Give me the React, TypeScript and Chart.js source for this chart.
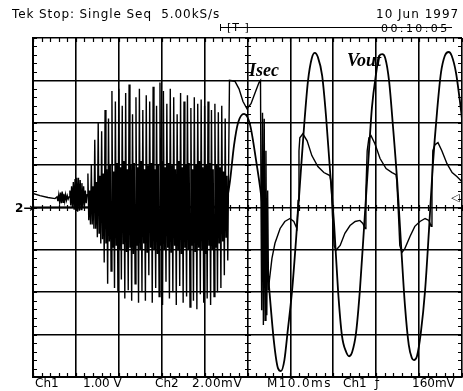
import React, { useEffect, useRef } from "react";
import { Chart, registerables } from "chart.js";

Chart.register(...registerables);

// Horizontal: M10.0ms per division, 10 divisions
const timeMinMs = 0;
const timeMaxMs = 100;
const timeDivMs = 10;
// Ch1 (Vout): 1.00 V/div ; Ch2 (Isec): 2.00 mV/div ; 8 divisions
const voutMinV = -4;
const voutMaxV = 4;
const isecMinMv = -8;
const isecMaxMv = 8;

// Vout (Ch1), volts
const voutTimes = [
  0, 44.5, 45.2, 45.9, 46.85, 47.8, 49.2, 50.6, 52.0, 53.4, 54.8, 56.2, 57.1, 57.8,
  58.6, 59.4, 60.4, 61.3, 62.2, 63.2, 64.1, 65.0, 65.7, 66.4, 67.4, 68.3, 69.2, 70.2,
  71.1, 72.0, 73.0, 73.7, 74.4, 75.3, 76.2, 77.2, 78.1, 79.0, 80.0, 80.7, 81.4, 82.1,
  83.0, 83.9, 84.9, 85.8, 86.7, 87.6, 88.3, 88.8, 89.5, 90.4, 91.4, 92.3, 93.2, 94.2,
  95.1, 96.0, 96.9, 97.6, 98.6, 99.5, 100,
];
const voutValues = [
  0, 0.02, 0.2, 0.61, 1.46, 2.0, 2.21, 1.95, 1.11, 0.09, -1.6, -3.2, -3.79, -3.86,
  -3.6, -2.89, -1.95, -0.78, 0.52, 1.93, 2.99, 3.53, 3.65, 3.55, 3.11, 2.16, 0.92, -0.42,
  -1.95, -3.01, -3.41, -3.51, -3.41, -2.96, -1.95, -0.42, 0.99, 2.35, 3.18, 3.58, 3.62, 3.53,
  2.99, 1.93, 0.61, -0.89, -2.31, -3.25, -3.55, -3.6, -3.51, -2.96, -1.95, -0.54, 0.99, 2.28,
  3.18, 3.58, 3.67, 3.58, 3.18, 2.52, 2.09,
];

// Isec (Ch2), millivolts — lead-in before the sampled burst
const isecLeadTimes = [0, 1.63, 3.5, 5.13];
const isecLeadValues = [0.66, 0.56, 0.47, 0.42];

// Burst record, read sample by sample at 5.00kS/s
const sampleRateKsPerS = 5;
const isecSampleStartMs = 5.6;
const isecSamples = [
  // small wobble
  0.5, 0.3, 0.6, 0.25, 0.7, 0.2, 0.75, 0.25, 0.65, 0.3, 0.6, 0.35, 0.55, 0.4, 0.5,
  // blob
  0.8, 0.1, 1.0, 0.0, 1.2, -0.1, 1.35, -0.15, 1.4, -0.2, 1.4, -0.15, 1.3, -0.1, 1.15,
  0.0, 1.0, 0.1, 0.8, 0.2, 0.6,
  // burst: spike top, core low, core high, spike bottom
  1.6, -0.6, 0.8, -0.8,
  2.0, -0.8, 1.0, -1.0,
  3.2, -1.0, 1.2, -1.4,
  4.0, -1.2, 1.5, -1.7,
  3.6, -1.5, 1.6, -2.6,
  4.6, -1.7, 1.8, -3.6,
  4.2, -1.6, 2.0, -3.0,
  5.5, -1.9, 1.7, -3.8,
  5.0, -1.8, 2.1, -4.0,
  5.6, -2.0, 1.9, -3.4,
  4.8, -1.7, 2.2, -4.3,
  5.4, -2.1, 1.8, -3.9,
  5.8, -1.9, 2.0, -4.4,
  4.4, -2.2, 2.1, -3.6,
  5.2, -1.8, 1.9, -4.5,
  5.6, -2.0, 2.2, -4.0,
  4.6, -1.7, 1.8, -4.4,
  5.3, -2.1, 2.0, -3.2,
  5.0, -1.9, 2.1, -4.5,
  5.7, -2.0, 1.8, -3.8,
  4.8, -2.2, 2.0, -4.2,
  5.9, -1.8, 2.2, -4.6,
  5.5, -2.0, 1.9, -3.5,
  4.9, -1.9, 2.1, -4.3,
  5.6, -2.1, 2.0, -4.0,
  5.2, -1.8, 1.8, -4.6,
  4.4, -2.0, 2.2, -3.7,
  5.4, -2.2, 1.9, -4.5,
  5.0, -1.9, 2.0, -4.2,
  5.3, -2.0, 2.1, -4.7,
  4.7, -1.8, 1.8, -4.4,
  5.2, -2.1, 2.0, -4.8,
  4.9, -1.9, 2.2, -4.1,
  5.1, -2.0, 1.9, -4.5,
  4.8, -2.2, 2.0, -4.3,
  5.0, -1.8, 2.1, -4.6,
  4.6, -2.0, 1.8, -4.2,
  4.9, -1.9, 2.0, -4.0,
  4.5, -1.7, 1.9, -3.8,
  4.8, -1.6, 1.7, -3.2,
  4.2, -1.4, 1.5, -2.5,
  2.0, 6.0,
];

// Isec after the burst
const isecTailTimes = [
  46.39, 47.09, 48.02, 48.95, 49.88, 50.82, 51.75, 52.68, 53.03, 53.15, 53.3, 53.5, 53.7,
  53.9, 54.1, 54.3, 54.5, 54.7, 54.9, 55.1, 55.7, 56.4, 57.6, 58.7, 59.9, 60.8, 61.5,
  61.8, 62.0, 62.2, 62.9, 63.9, 65.0, 66.4, 67.8, 69.2, 69.5, 69.8, 70.2, 70.6, 71.6,
  72.7, 73.9, 75.1, 76.2, 76.9, 77.4, 77.6, 77.9, 78.3, 78.8, 79.7, 80.9, 82.3, 83.7,
  84.6, 84.8, 85.2, 85.5, 86.0, 86.7, 87.9, 89.0, 90.2, 91.4, 92.3, 92.8, 93.0, 93.2,
  93.7, 94.4, 95.3, 96.5, 97.7, 98.8, 100.0,
];
const isecTailValues = [
  5.98, 5.95, 5.6, 5.0, 4.66, 4.9, 5.4, 5.9, 6.0, 0.33, -4.85, 4.47, -5.55,
  4.19, -5.32, 2.68, -5.08, 0.8, -3.9, -3.44, -2.4, -1.69, -0.99, -0.66, -0.52, -0.66, -0.99,
  0.33, 2.68, 3.29, 3.48, 3.15, 2.45, 1.93, 1.65, 1.51, 1.18, -0.38, -1.79, -2.02, -1.79,
  -1.22, -0.85, -0.66, -0.61, -0.75, -0.99, 0.8, 2.68, 3.29, 3.39, 3.01, 2.31, 1.84, 1.65,
  1.55, 1.27, -0.38, -1.79, -2.12, -1.93, -1.36, -0.89, -0.66, -0.52, -0.61, -0.89, 0.8, 2.68,
  2.96, 3.06, 2.68, 2.07, 1.65, 1.46, 1.22,
];

const graticulePlugin = {
  id: "graticule",
  beforeDatasetsDraw(chart: any) {
    const { ctx, chartArea: a, scales } = chart;
    const xs = scales.x;
    const ys = scales.y;
    const cx = Math.round(xs.getPixelForValue((timeMinMs + timeMaxMs) / 2));
    const cy = Math.round(ys.getPixelForValue(0));
    ctx.save();
    ctx.strokeStyle = "#000";
    ctx.lineWidth = 1.2;
    ctx.beginPath();
    const nx = ((timeMaxMs - timeMinMs) / timeDivMs) * 5;
    for (let i = 0; i <= nx; i++) {
      const px = Math.round(xs.getPixelForValue(timeMinMs + (i * timeDivMs) / 5)) + 0.5;
      ctx.moveTo(px, a.top);
      ctx.lineTo(px, a.top + 4);
      ctx.moveTo(px, a.bottom);
      ctx.lineTo(px, a.bottom - 4);
      ctx.moveTo(px, cy - 3);
      ctx.lineTo(px, cy + 3);
    }
    const ny = (voutMaxV - voutMinV) * 5;
    for (let i = 0; i <= ny; i++) {
      const py = Math.round(ys.getPixelForValue(voutMinV + i / 5)) + 0.5;
      ctx.moveTo(a.left, py);
      ctx.lineTo(a.left + 4, py);
      ctx.moveTo(a.right, py);
      ctx.lineTo(a.right - 4, py);
      ctx.moveTo(cx - 3, py);
      ctx.lineTo(cx + 3, py);
    }
    ctx.stroke();
    ctx.restore();
  },
};

const sans = '"DejaVu Sans", sans-serif';
const serif = '"Liberation Serif", "Times New Roman", serif';

function Label(props: { left: number; top: number; text: string; size?: number; spacing?: number; family?: string; weight?: string; italic?: boolean }) {
  const { left, top, text, size = 12, spacing = 0, family = sans, weight = "normal", italic = false } = props;
  return (
    <div
      style={{
        position: "absolute",
        left,
        top,
        fontFamily: family,
        fontSize: size,
        lineHeight: 1,
        letterSpacing: spacing,
        fontWeight: weight as any,
        fontStyle: italic ? "italic" : "normal",
        whiteSpace: "pre",
        color: "#000",
      }}
    >
      {text}
    </div>
  );
}

export default function App() {
  const ref = useRef<HTMLCanvasElement | null>(null);

  useEffect(() => {
    if (!ref.current) return;
    const samplePeriodMs = 1 / sampleRateKsPerS;
    const vout = voutTimes.map((t, i) => ({ x: t, y: voutValues[i] }));
    const isec = [
      ...isecLeadTimes.map((t, i) => ({ x: t, y: isecLeadValues[i] })),
      ...isecSamples.map((v, i) => ({ x: isecSampleStartMs + i * samplePeriodMs, y: v })),
      ...isecTailTimes.map((t, i) => ({ x: t, y: isecTailValues[i] })),
    ];
    const chart = new Chart(ref.current, {
      type: "line",
      data: {
        datasets: [
          {
            label: "Vout",
            data: vout,
            yAxisID: "y",
            borderColor: "#000",
            borderWidth: 1.8,
            pointRadius: 0,
            cubicInterpolationMode: "monotone",
            fill: false,
          },
          {
            label: "Isec",
            data: isec,
            yAxisID: "y2",
            borderColor: "#000",
            borderWidth: 1.4,
            pointRadius: 0,
            tension: 0,
            fill: false,
          },
        ],
      },
      options: {
        responsive: false,
        animation: false,
        devicePixelRatio: 1,
        layout: { padding: { left: 33, top: 38, right: 1, bottom: 14 } },
        plugins: { legend: { display: false }, tooltip: { enabled: false }, title: { display: false } },
        scales: {
          x: {
            type: "linear",
            min: timeMinMs,
            max: timeMaxMs,
            ticks: { display: false, stepSize: timeDivMs },
            grid: { color: "#000", lineWidth: 1.6, drawTicks: false },
            border: { display: true, color: "#000", width: 2 },
          },
          y: {
            type: "linear",
            min: voutMinV,
            max: voutMaxV,
            ticks: { display: false, stepSize: 1 },
            grid: { color: "#000", lineWidth: 1.6, drawTicks: false },
            border: { display: true, color: "#000", width: 2 },
          },
          y2: {
            type: "linear",
            display: false,
            min: isecMinMv,
            max: isecMaxMv,
          },
        },
      },
      plugins: [graticulePlugin],
    });
    return () => chart.destroy();
  }, []);

  return (
    <div style={{ position: "fixed", left: 0, top: 0, width: 463, height: 391, background: "#fff", overflow: "hidden" }}>
      <canvas ref={ref} width={463} height={391} style={{ display: "block" }} />
      <Label left={12} top={8} text="Tek Stop: Single Seq  5.00kS/s" spacing={0.9} />
      <Label left={376} top={8} text="10 Jun 1997" spacing={1} />
      <Label left={381} top={23} size={11} text="00:10:05" spacing={2.4} />
      <div style={{ position: "absolute", left: 220, top: 27, width: 232, height: 0, borderTop: "1.5px solid #000" }} />
      <div style={{ position: "absolute", left: 220, top: 24, width: 0, height: 7, borderLeft: "1.5px solid #000" }} />
      <Label left={227} top={22} size={11} text="[T ]" spacing={1} />
      <Label left={15} top={202} text="2→" weight="bold" />
      <Label left={451} top={192} size={11} text="◁" />
      <Label left={249} top={61} size={18} family={serif} weight="bold" italic text="Isec" />
      <Label left={347} top={51} size={18} family={serif} weight="bold" italic text="Vout" />
      <Label left={35} top={377} text="Ch1" />
      <Label left={83} top={377} text="1.00 V" />
      <Label left={155} top={377} text="Ch2" />
      <Label left={192} top={377} text="2.00mV" spacing={0.6} />
      <Label left={267} top={377} text="M10.0ms" spacing={1.4} />
      <Label left={343} top={377} text="Ch1" />
      <Label left={375} top={377} text="ƒ" />
      <Label left={412} top={377} text="160mV" />
    </div>
  );
}
